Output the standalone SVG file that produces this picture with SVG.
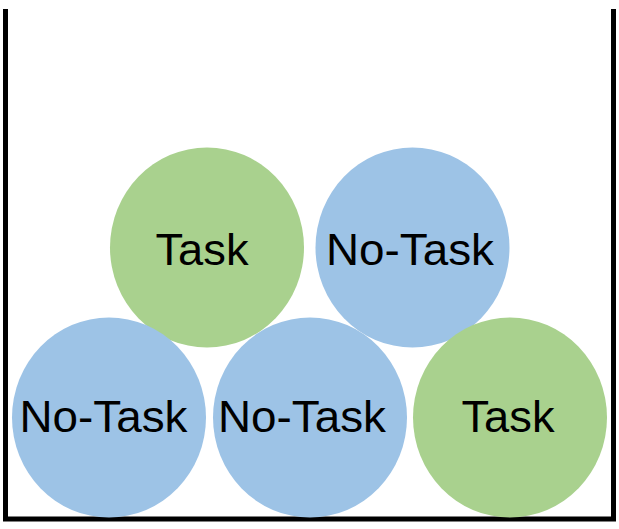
<svg xmlns="http://www.w3.org/2000/svg" width="619" height="529" viewBox="0 0 619 529">
<style>
.task{fill:#A9D18E}
.notask{fill:#9DC3E6}
.lbl{font-family:"Liberation Sans","Noto Sans",Arial,sans-serif;font-size:45px;fill:#000;text-anchor:middle}
.wall{fill:none;stroke:#000;stroke-width:5}
</style>
<rect width="619" height="529" fill="#fff"/>
<g id="container"><polyline class="wall" points="5.5,9 5.5,519 613.5,519 613.5,9"/></g>
<g id="node-task-top"><ellipse class="task" cx="207" cy="247.5" rx="97" ry="100"/><text class="lbl" x="202" y="265" textLength="93" lengthAdjust="spacingAndGlyphs">Task</text></g>
<g id="node-notask-top"><ellipse class="notask" cx="412.5" cy="247.5" rx="97" ry="100"/><text class="lbl" x="410" y="265" textLength="168" lengthAdjust="spacingAndGlyphs">No-Task</text></g>
<g id="node-notask-left"><ellipse class="notask" cx="109" cy="417.5" rx="97" ry="100"/><text class="lbl" x="103.5" y="432" textLength="168" lengthAdjust="spacingAndGlyphs">No-Task</text></g>
<g id="node-notask-mid"><ellipse class="notask" cx="310" cy="417.5" rx="97" ry="100"/><text class="lbl" x="302" y="432" textLength="168" lengthAdjust="spacingAndGlyphs">No-Task</text></g>
<g id="node-task-right"><ellipse class="task" cx="510" cy="417.5" rx="97" ry="100"/><text class="lbl" x="508" y="432" textLength="93" lengthAdjust="spacingAndGlyphs">Task</text></g>
<g id="connectors"/>
</svg>
